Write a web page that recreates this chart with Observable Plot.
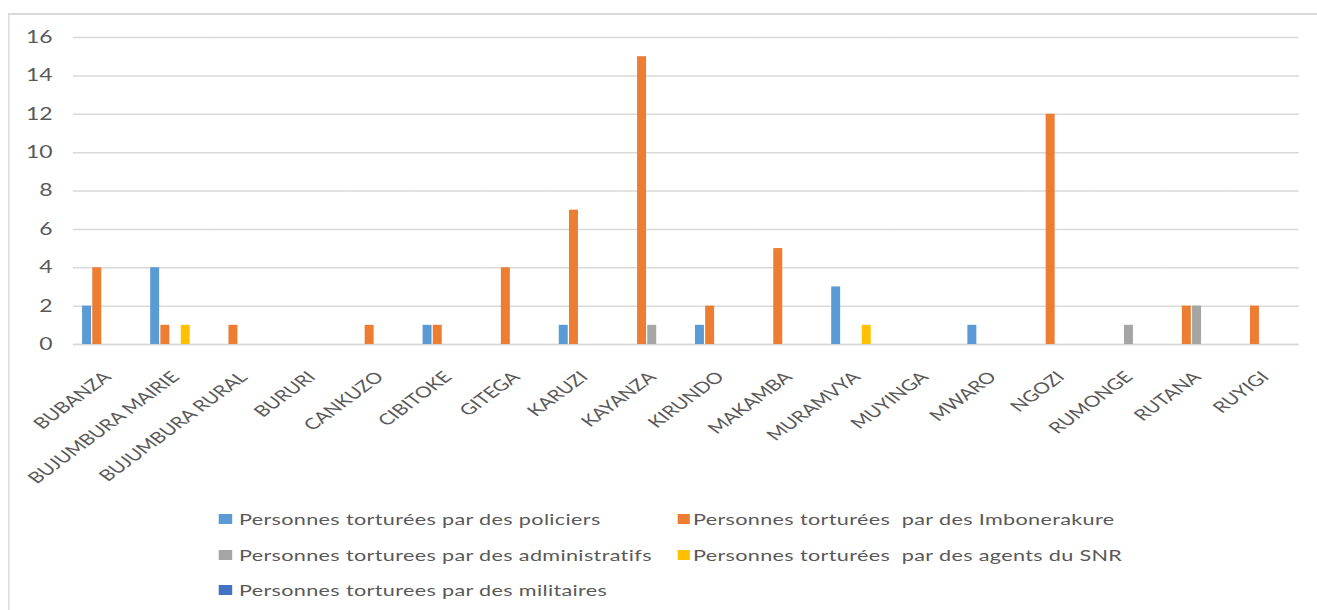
<!DOCTYPE html>
<html>
<head>
<meta charset="utf-8">
<script src="https://cdn.jsdelivr.net/npm/d3@7"></script>
<script src="https://cdn.jsdelivr.net/npm/@observablehq/plot@0.6"></script>
<style>
  html, body { margin: 0; padding: 0; background: #ffffff; overflow: hidden; }
  #wrap { position: relative; width: 976px; height: 610px; transform: scaleX(1.35); transform-origin: 0 0; font-family: Lato, "Open Sans", sans-serif; color: #595959; }
  #frame { position: absolute; left: 6px; top: 13px; right: -10px; bottom: -10px; border-left: 1.5px solid #d9d9d9; border-top: 2px solid #d9d9d9; }
  #chart { position: absolute; left: 0; top: 0; }
  .item { position: absolute; font-size: 16px; letter-spacing: 0.25px; line-height: 18px; white-space: pre; }
  .sw { position: absolute; width: 9.6px; height: 10px; }
</style>
</head>
<body>
<div id="wrap">
  <div id="frame"></div>
  <div id="chart"></div>
  <div id="legend"></div>
</div>
<script>
const categories = ["BUBANZA", "BUJUMBURA MAIRIE", "BUJUMBURA RURAL", "BURURI", "CANKUZO", "CIBITOKE", "GITEGA", "KARUZI", "KAYANZA", "KIRUNDO", "MAKAMBA", "MURAMVYA", "MUYINGA", "MWARO", "NGOZI", "RUMONGE", "RUTANA", "RUYIGI"];
const seriesNames = [
  "Personnes torturées par des policiers",
  "Personnes torturées  par des Imbonerakure",
  "Personnes torturees par des administratifs",
  "Personnes torturées  par des agents du SNR",
  "Personnes torturees par des militaires"
];
const policiers       = [2, 4, 0, 0, 0, 1, 0, 1, 0, 1, 0, 3, 0, 1, 0, 0, 0, 0];
const imbonerakure    = [4, 1, 1, 0, 1, 1, 4, 7, 15, 2, 5, 0, 0, 0, 12, 0, 2, 2];
const administratifs  = [0, 0, 0, 0, 0, 0, 0, 0, 1, 0, 0, 0, 0, 0, 0, 1, 2, 0];
const agentsSNR       = [0, 1, 0, 0, 0, 0, 0, 0, 0, 0, 0, 1, 0, 0, 0, 0, 0, 0];
const militaires      = [0, 0, 0, 0, 0, 0, 0, 0, 0, 0, 0, 0, 0, 0, 0, 0, 0, 0];
const seriesColors = ["#5B9BD5", "#ED7D31", "#A5A5A5", "#FFC000", "#4472C4"];
const yTicks = [0, 2, 4, 6, 8, 10, 12, 14, 16];

const seriesValues = [policiers, imbonerakure, administratifs, agentsSNR, militaires];
const data = categories.flatMap((c, i) =>
  seriesNames.map((s, j) => ({ cat: c, series: s, value: seriesValues[j][i] }))
);

const chart = Plot.plot({
  width: 976,
  height: 490,
  marginLeft: 54,
  marginRight: 14,
  marginTop: 37,
  marginBottom: 146,
  fx: { domain: categories, padding: 0, round: false, label: null },
  x: { domain: seriesNames, paddingInner: 0.12, paddingOuter: 0.9, round: false, axis: null },
  y: { domain: [0, 16], label: null },
  color: { domain: seriesNames, range: seriesColors },
  style: { fontFamily: "Lato, 'Open Sans', sans-serif", color: "#595959", background: "transparent", overflow: "visible" },
  marks: [
    Plot.gridY(yTicks, { stroke: "#d9d9d9", strokeOpacity: 1, strokeWidth: 1.5 }),
    Plot.ruleY([0], { stroke: "#d9d9d9", strokeWidth: 1.5 }),
    Plot.barY(data, { fx: "cat", x: "series", y: "value", fill: "series" }),
    Plot.axisY(yTicks, { tickSize: 0, tickPadding: 15.5, fontSize: 17, label: null }),
    Plot.axisFx({ anchor: "bottom", tickRotate: -45, tickSize: 0, tickPadding: 30, fontSize: 15.5, label: null })
  ]
});
document.getElementById("chart").appendChild(chart);

// legend
const legend = document.getElementById("legend");
const rows = [519, 554.5, 590];
const cols = [{ sq: 162, tx: 177 }, { sq: 501.5, tx: 513.3 }];
seriesNames.forEach((s, k) => {
  const r = Math.floor(k / 2), c = k % 2;
  const sw = document.createElement("div");
  sw.className = "sw";
  sw.style.left = cols[c].sq + "px";
  sw.style.top = (rows[r] - 5) + "px";
  sw.style.background = seriesColors[k];
  legend.appendChild(sw);
  const t = document.createElement("div");
  t.className = "item";
  t.style.left = cols[c].tx + "px";
  t.style.top = (rows[r] - 9) + "px";
  t.textContent = s;
  legend.appendChild(t);
});
</script>
</body>
</html>
